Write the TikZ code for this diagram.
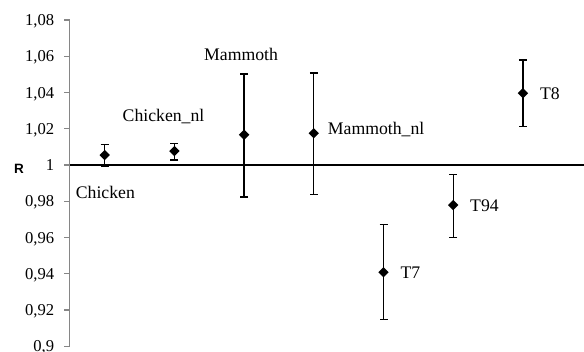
\documentclass[tikz,border=0pt]{standalone}
\usepackage{fontspec}
\setmainfont{Liberation Serif}
\newfontfamily\axisfont{Liberation Sans}
\usetikzlibrary{shapes.geometric,arrows.meta}

\definecolor{axisgray}{HTML}{868686}
\tikzset{
  axisline/.style={draw=axisgray, line width=1.2pt},
  ticklbl/.style={anchor=east, inner sep=0pt, text depth=0pt, font=\fontsize{16.6}{19}\selectfont},
  serieslbl/.style={anchor=base west, inner sep=0pt, font=\fontsize{17.7}{20}\selectfont},
  errbar/.style={line width=1.3pt, {Bar[width=8pt]}-{Bar[width=8pt]}},
  meanpt/.style={diamond, fill=black, inner sep=0pt, minimum size=10.5pt},
}

\begin{document}
\begin{tikzpicture}
	\useasboundingbox (0,0) rectangle (584pt,352pt);
	\begin{scope}[x=69.7pt, xshift=35pt, y=1812.5pt, yshift=-1625.5pt]
	% axis
	\coordinate (axbot) at (0.5,0.9);
	\coordinate (axtop) at (0.5,1.08);
	\draw[axisline] (axbot) -- (axtop);
	\foreach \v/\t [count=\k] in {0.9/{0,9}, 0.92/{0,92}, 0.94/{0,94}, 0.96/{0,96}, 0.98/{0,98}, 1/{1}, 1.02/{1,02}, 1.04/{1,04}, 1.06/{1,06}, 1.08/{1,08}} {
		\coordinate (tick\k) at (0.5,\v);
		\draw[axisline] (tick\k) -- ++(-6pt,0);
		\node[ticklbl, xshift=-15.5pt] (ticklbl\k) at (tick\k) {\t};
	}
	\node[inner sep=0pt, text depth=0pt, font=\axisfont\bfseries\fontsize{13.5}{15}\selectfont] (rlbl) at (-0.23,0.998) {R};
	% error bars
	\foreach \i/\m/\lo/\hi in {1/1.0055/0.999/1.0116, 2/1.0077/1.0024/1.0123, 3/1.0167/0.982/1.0506, 4/1.0175/0.9833/1.0511, 5/0.9408/0.9145/0.9676, 6/0.9779/0.9597/0.995, 7/1.0396/1.0208/1.0583} {
		\coordinate (lo\i) at (\i,\lo);
		\coordinate (hi\i) at (\i,\hi);
		\draw[errbar] (lo\i) -- (hi\i);
	}
	% R = 1
	\coordinate (base0) at (0.5,1);
	\coordinate (base1) at (7.877,1);
	\draw[line width=2.6pt] (base0) -- (base1);
	\foreach \i/\m in {1/1.0055, 2/1.0077, 3/1.0167, 4/1.0175, 5/0.9408, 6/0.9779, 7/1.0396} {
		\node[meanpt] (pt\i) at (\i,\m) {};
	}
	% labels
	\node[serieslbl, anchor=base] (lblchicken) at (1.01,0.9816) {Chicken};
	\node[serieslbl] (lblchickennl) at (1.256,1.0239) {Chicken\_nl};
	\node[serieslbl] (lblmammoth) at (2.425,1.0579) {Mammoth};
	\node[serieslbl] (lblmammothnl) at (4.2,1.0168) {Mammoth\_nl};
	\node[serieslbl] (lbltseven) at (5.242,0.9371) {T7};
	\node[serieslbl] (lbltninetyfour) at (6.241,0.9742) {T94};
	\node[serieslbl] (lblteight) at (7.245,1.0362) {T8};
	\end{scope}
\end{tikzpicture}
\end{document}
